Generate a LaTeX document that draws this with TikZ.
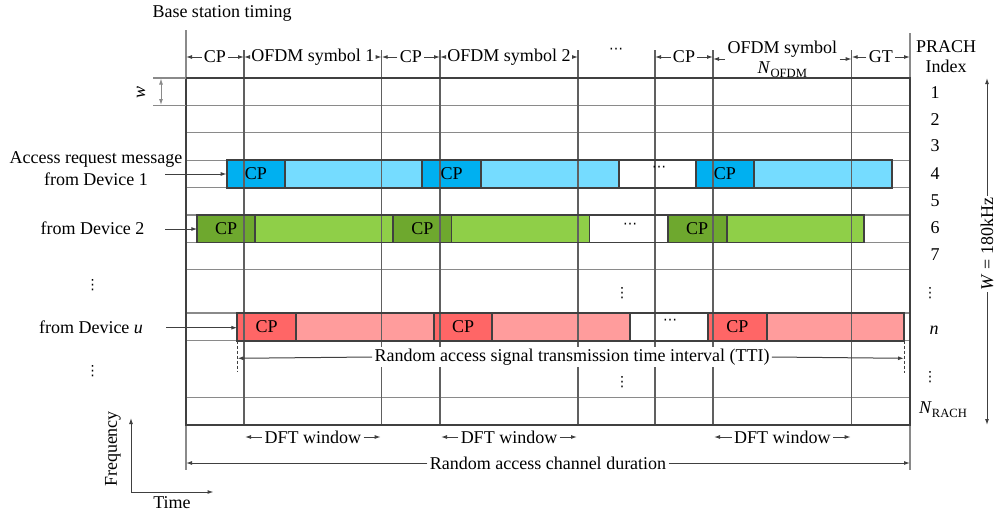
\documentclass[tikz,border=0pt]{standalone}
\usepackage{fontspec}
\setmainfont{Liberation Serif}
\newfontfamily\djv{DejaVu Sans}
\usetikzlibrary{arrows.meta}
\definecolor{cpblue}{HTML}{00B0F0}
\definecolor{ltblue}{HTML}{75DCFF}
\definecolor{cpgreen}{HTML}{6EA82E}
\definecolor{ltgreen}{HTML}{8FCF48}
\definecolor{cpred}{HTML}{FF6666}
\definecolor{ltred}{HTML}{FF9C9C}
\definecolor{lineC}{HTML}{404040}
\definecolor{gridC}{HTML}{8A8A8A}
\definecolor{vgridC}{HTML}{606060}
\tikzset{
 tip/.style={-{Latex[length=3pt,width=2pt]}, draw=lineC, line width=0.5pt},
 dtip/.style={{Latex[length=3pt,width=2pt]}-{Latex[length=3pt,width=2pt]}, draw=lineC, line width=0.5pt},
 lbl/.style={inner sep=1pt},
 hgrid/.style={draw=gridC, line width=0.6pt},
 vgrid/.style={draw=vgridC, line width=0.6pt},
 border/.style={draw=lineC, line width=1pt},
 seg/.style={draw=lineC, line width=0.9pt},
 ext/.style={draw=gridC, line width=0.6pt},
 dotsnode/.style={inner sep=0pt},
}
\newcommand\spanlbl[5]{%
 \node[lbl] (#1) at ({(#2+#3)/2},#4) {#5};
 \coordinate (#1L) at (#2,#4); \coordinate (#1R) at (#3,#4);
 \draw[tip] (#1.west) -- (#1L); \draw[tip] (#1.east) -- (#1R);}
\newcommand\subsc[1]{\raisebox{-0.45ex}{\fontsize{6.3}{7}\selectfont #1}}
\newcommand\myvdots{{\djv\fontsize{7}{7}\selectfont ⋮}}
\newcommand\mycdots{{\djv\fontsize{7}{7}\selectfont ⋯}}
\begin{document}
\begin{tikzpicture}[x=0.5pt,y=-0.5pt,font=\fontsize{9}{11}\selectfont]
\useasboundingbox (0,0) rectangle (996,514);

% ---------- bar fills ----------
\foreach \a/\b/\c in {226.7/285/cpblue, 285/422.3/ltblue, 422.3/481/cpblue, 481/619/ltblue, 619/696/white, 696/753.7/cpblue, 753.7/892.3/ltblue}
  \fill[\c] (\a,160.2) rectangle (\b,187.6);
\foreach \a/\b/\c in {197.3/255/cpgreen, 255/393.3/ltgreen, 393.3/451.5/cpgreen, 451.5/589.5/ltgreen, 589.5/667.7/white, 667.7/726.7/cpgreen, 726.7/864.3/ltgreen}
  \fill[\c] (\a,215) rectangle (\b,242.4);
\foreach \a/\b/\c in {237.3/296/cpred, 296/434/ltred, 434/492.3/cpred, 492.3/630/ltred, 630/708/white, 708/766.7/cpred, 766.7/904.3/ltred}
  \fill[\c] (\a,313) rectangle (\b,340.7);

% ---------- grid ----------
\foreach \yy in {105.4,132.8,160.2,187.6,215,242.4,269.5,313,340.7,397.7}
  \draw[hgrid] (186,\yy) -- (910,\yy);
\foreach \xx in {244,381.7,440,578,655,713,851.7}
  \draw[vgrid] (\xx,50) -- (\xx,424.5);
\draw[ext] (186,30) -- (186,78);
\draw[ext] (186,424.5) -- (186,470);
\draw[ext] (910,33) -- (910,78);
\draw[ext] (910,424.5) -- (910,470);

% ---------- bar outlines ----------
\foreach \a/\b in {226.7/285, 285/422.3, 422.3/481, 481/619, 619/696, 696/753.7, 753.7/892.3}
  \draw[seg] (\a,160.2) rectangle (\b,187.6);
\foreach \a/\b in {197.3/255, 255/393.3, 393.3/451.5, 451.5/589.5, 589.5/667.7, 667.7/726.7, 726.7/864.3}
  \draw[seg] (\a,215) rectangle (\b,242.4);
\foreach \a/\b in {237.3/296, 296/434, 434/492.3, 492.3/630, 630/708, 708/766.7, 766.7/904.3}
  \draw[seg] (\a,313) rectangle (\b,340.7);
\draw[border] (186,78) rectangle (910,424.5);

% ---------- bar texts ----------
\node (bcp1) at (255.8,174) {CP};
\node (bcp2) at (451.6,174) {CP};
\node (bcp3) at (724.8,174) {CP};
\node[dotsnode] (bdots) at (659,169) {\mycdots};
\node (gcp1) at (226.1,228.7) {CP};
\node (gcp2) at (422.4,228.7) {CP};
\node (gcp3) at (697.2,228.7) {CP};
\node[dotsnode] (gdots) at (630,226) {\mycdots};
\node (rcp1) at (266.6,327) {CP};
\node (rcp2) at (463.1,327) {CP};
\node (rcp3) at (737.3,327) {CP};
\node[dotsnode] (rdots) at (670,322) {\mycdots};

% ---------- header ----------
\node (bst) at (222,13) {Base station timing};
\spanlbl{hcp1}{186}{244}{57}{CP}
\spanlbl{hsym1}{244}{381.7}{57}{OFDM symbol 1}
\spanlbl{hcp2}{381.7}{440}{57}{CP}
\spanlbl{hsym2}{440}{578}{57}{OFDM symbol 2}
\node[dotsnode] (hdots) at (616,51) {\mycdots};
\spanlbl{hcp3}{655}{713}{57}{CP}
\spanlbl{hsymN}{713}{851.7}{59}{\begin{tabular}{@{}c@{}}OFDM symbol\\[-1pt]\textit{N}\subsc{OFDM}\end{tabular}}
\spanlbl{hgt}{851.7}{910}{57}{GT}
\node[align=center] (prach) at (946,57) {PRACH\\[-1pt]Index};

% ---------- w marker ----------
\draw[hgrid] (153,78) -- (186,78);
\draw[hgrid] (153,105.4) -- (186,105.4);
\coordinate (wt) at (161,78.5);
\coordinate (wb) at (161,105);
\draw[dtip,draw=gridC] (wt) -- (wb);
\node[rotate=90] (wlbl) at (141,92) {\textit{w}};

% ---------- left labels ----------
\node[align=center] (dev1) at (96,169) {Access request message\\from Device 1};
\coordinate (d1a) at (165,174);
\coordinate (d1b) at (226.7,174);
\draw[tip] (d1a) -- (d1b);
\node (dev2) at (92.5,228) {from Device 2};
\coordinate (d2a) at (165,229);
\coordinate (d2b) at (197.3,229);
\draw[tip] (d2a) -- (d2b);
\node (devu) at (91,327) {from Device \textit{u}};
\coordinate (dua) at (166,327.7);
\coordinate (dub) at (237.3,327.7);
\draw[tip] (dua) -- (dub);
\node[dotsnode] (lv1) at (92.5,285) {\myvdots};
\node[dotsnode] (lv2) at (92.5,371) {\myvdots};
\node[dotsnode] (gv1) at (622,293) {\myvdots};
\node[dotsnode] (gv2) at (622,382) {\myvdots};

% ---------- TTI ----------
\coordinate (ttiL) at (237.5,358.3);
\coordinate (ttiR) at (904,358.3);
\draw[draw=lineC, line width=0.5pt, dash pattern=on 1.5pt off 1pt] (237.5,340.7) -- (237.5,372);
\draw[draw=lineC, line width=0.5pt, dash pattern=on 1.5pt off 1pt] (904,340.7) -- (904,373);
\node[lbl, fill=white] (tti) at (572,357) {Random access signal transmission time interval (TTI)};
\draw[tip] (tti.west) -- (ttiL);
\draw[tip] (tti.east) -- (ttiR);

% ---------- index column ----------
\node (i1) at (935,93) {1};
\node (i2) at (935,120) {2};
\node (i3) at (935,146) {3};
\node (i4) at (935,174) {4};
\node (i5) at (935,201) {5};
\node (i6) at (935,228) {6};
\node (i7) at (935,255) {7};
\node[dotsnode] (iv1) at (930,293) {\myvdots};
\node (in) at (934,330) {\textit{n}};
\node[dotsnode] (iv2) at (930,377) {\myvdots};
\node (iN) at (943,410) {\textit{N}\subsc{RACH}};

% ---------- W arrow ----------
\coordinate (Wt) at (987,78);
\coordinate (Wb) at (987,425);
\draw[dtip] (Wt) -- (Wb);
\node[rotate=90, fill=white, inner sep=1pt] (Wl) at (987,244) {\textit{W} = 180kHz};

% ---------- bottom ----------
\spanlbl{dft1}{245}{380.7}{437}{DFT window}
\spanlbl{dft2}{441}{577}{437}{DFT window}
\spanlbl{dft3}{714}{850.7}{437}{DFT window}
\spanlbl{racd}{186}{910}{463}{Random access channel duration}

% ---------- axes ----------
\coordinate (ax0) at (131,492);
\coordinate (axF) at (131,418);
\coordinate (axT) at (213.5,492);
\draw[tip] (ax0) -- (axF);
\draw[tip] (ax0) -- (axT);
\node[rotate=90] (freq) at (113,449) {Frequency};
\node (time) at (172,503) {Time};
\end{tikzpicture}
\end{document}
